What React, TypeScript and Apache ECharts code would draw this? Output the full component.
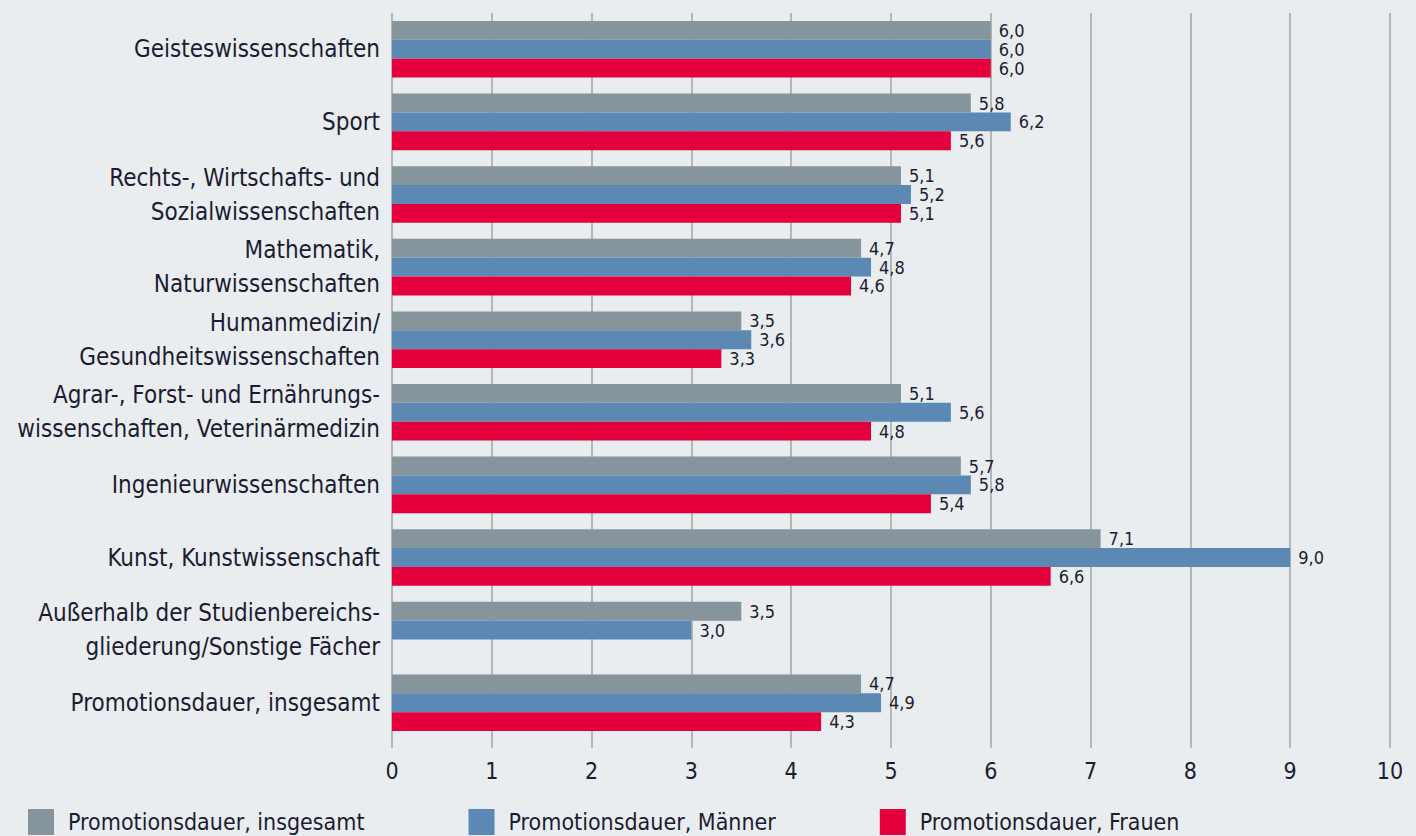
import React, { useEffect, useRef } from "react";
import * as echarts from "echarts";

const categories = [
  "Geisteswissenschaften",
  "Sport",
  "Rechts-, Wirtschafts- und\nSozialwissenschaften",
  "Mathematik,\nNaturwissenschaften",
  "Humanmedizin/\nGesundheitswissenschaften",
  "Agrar-, Forst- und Ernährungs-\nwissenschaften, Veterinärmedizin",
  "Ingenieurwissenschaften",
  "Kunst, Kunstwissenschaft",
  "Außerhalb der Studienbereichs-\ngliederung/Sonstige Fächer",
  "Promotionsdauer, insgesamt",
];

const seriesNames = [
  "Promotionsdauer, insgesamt",
  "Promotionsdauer, Männer",
  "Promotionsdauer, Frauen",
];

const insgesamt = [6.0, 5.8, 5.1, 4.7, 3.5, 5.1, 5.7, 7.1, 3.5, 4.7];
const maenner = [6.0, 6.2, 5.2, 4.8, 3.6, 5.6, 5.8, 9.0, 3.0, 4.9];
const frauen: (number | null)[] = [6.0, 5.6, 5.1, 4.6, 3.3, 4.8, 5.4, 6.6, null, 4.3];

const xTicks = [0, 1, 2, 3, 4, 5, 6, 7, 8, 9, 10];

const colors = ["#86959c", "#5b89b4", "#e4003c"];
const FONT = "'Liberation Sans Narrow', 'DejaVu Sans Condensed', 'Roboto Condensed', sans-serif";
const TEXT = "#1c1c30";

export default function App() {
  const ref = useRef<HTMLDivElement>(null);
  useEffect(() => {
    if (!ref.current) return;
    const chart = echarts.init(ref.current, null, { renderer: "svg" });
    const fmt = (p: any) =>
      p.value == null ? "" : Number(p.value).toFixed(1).replace(".", ",");
    const mk = (name: string, data: (number | null)[], i: number) => ({
      name,
      type: "bar",
      data,
      barGap: "0%",
      barCategoryGap: "22%",
      itemStyle: { color: colors[i] },
      label: {
        show: true,
        position: "right",
        distance: 8,
        formatter: fmt,
        fontFamily: FONT,
        fontSize: 18,
        lineHeight: 18,
        color: TEXT,
      },
    });
    chart.setOption({
      animation: false,
      backgroundColor: "#e9edf0",
      textStyle: { fontFamily: FONT },
      grid: { left: 392, right: 26, top: 13, bottom: 97, containLabel: false },
      legend: {
        left: 28,
        top: 809,
        padding: 0,
        itemWidth: 26,
        itemHeight: 26,
        itemGap: 104,
        icon: "rect",
        data: seriesNames,
        textStyle: {
          fontFamily: FONT,
          fontSize: 23,
          color: TEXT,
          padding: [0, 0, 0, 9],
        },
      },
      xAxis: {
        type: "value",
        min: xTicks[0],
        max: xTicks[xTicks.length - 1],
        interval: 1,
        axisLine: { show: false },
        axisTick: {
          show: true,
          length: 9,
          lineStyle: { color: "#a3a3a3", width: 1.5 },
        },
        splitLine: { show: true, lineStyle: { color: "#a3a3a3", width: 1.5 } },
        axisLabel: {
          fontFamily: FONT,
          fontSize: 23,
          color: TEXT,
          margin: 20,
        },
      },
      yAxis: {
        type: "category",
        data: categories,
        inverse: true,
        axisLine: { show: false },
        axisTick: { show: false },
        axisLabel: {
          fontFamily: FONT,
          fontSize: 24,
          color: TEXT,
          margin: 12,
          lineHeight: 34,
          align: "right",
        },
      },
      series: [
        mk(seriesNames[0], insgesamt, 0),
        mk(seriesNames[1], maenner, 1),
        mk(seriesNames[2], frauen, 2),
      ],
    });
    return () => chart.dispose();
  }, []);
  return <div ref={ref} style={{ width: 1416, height: 836, position: "absolute", left: 0, top: 0 }} />;
}
